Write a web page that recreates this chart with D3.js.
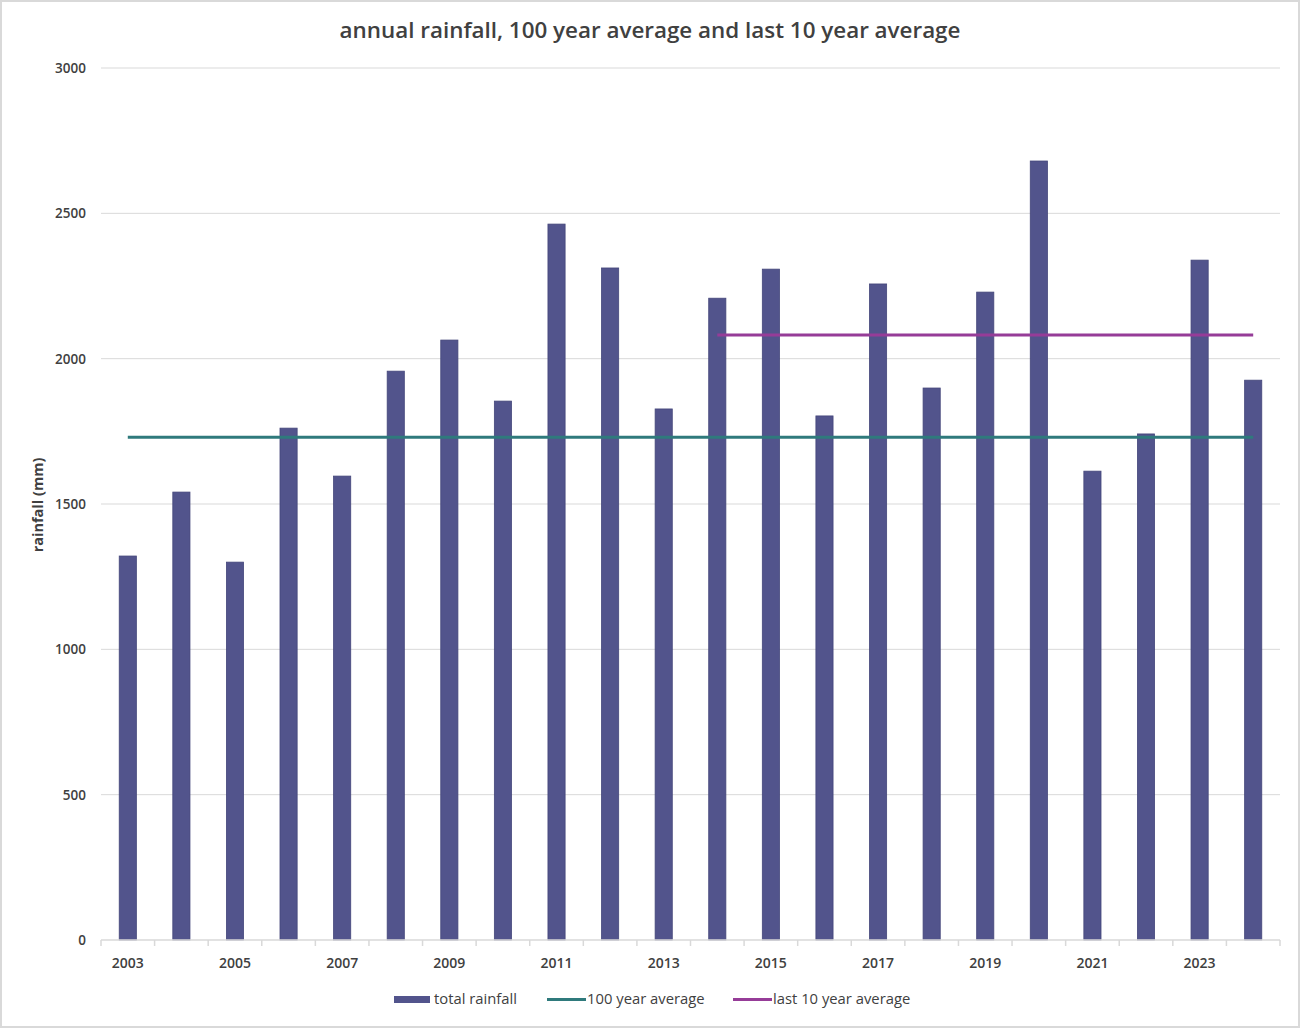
<!DOCTYPE html>
<html><head><meta charset="utf-8">
<script src="https://cdn.jsdelivr.net/npm/d3@7"></script>
<style>body{margin:0;background:#fff}svg{display:block}</style>
</head><body>
<script>
const years = [2003,2004,2005,2006,2007,2008,2009,2010,2011,2012,2013,2014,2015,2016,2017,2018,2019,2020,2021,2022,2023,2024];
const totalRainfall = [1321,1541,1300,1761,1596,1957,2064,1854,2463,2312,1827,2208,2308,1803,2257,1899,2229,2680,1613,1741,2339,1926];
const avg100 = 1730;
const avg10 = 2081;
const avg10Start = 2014;
const yTicks = [0,500,1000,1500,2000,2500,3000];
const xLabelYears = [2003,2005,2007,2009,2011,2013,2015,2017,2019,2021,2023];

const W=1300,H=1028;
const m={left:101,right:20,top:68,bottom:88};
const svg=d3.select("body").append("svg").attr("width",W).attr("height",H);
svg.append("rect").attr("x",1).attr("y",1).attr("width",W-2).attr("height",H-2).attr("fill","#fff").attr("stroke","#d9d9d9").attr("stroke-width",2);
const font="'Open Sans', 'Liberation Sans', sans-serif";
const x=d3.scaleBand().domain(years).range([m.left,W-m.right]).paddingInner(0.68).paddingOuter(0.34);
const y=d3.scaleLinear().domain([0,3000]).range([H-m.bottom,m.top]);

// gridlines
svg.append("g").selectAll("line").data(yTicks.filter(d=>d>0)).join("line")
 .attr("x1",m.left).attr("x2",W-m.right).attr("y1",d=>y(d)).attr("y2",d=>y(d))
 .attr("stroke","#d9d9d9").attr("stroke-width",1);
// y labels
svg.append("g").selectAll("text").data(yTicks).join("text")
 .attr("x",86).attr("y",d=>y(d)+5).attr("text-anchor","end")
 .attr("font-family",font).attr("font-size",13.5).attr("font-weight",600).attr("fill","#404040").text(d=>d);

// bars
svg.append("g").selectAll("rect").data(years).join("rect")
 .attr("x",d=>x(d)).attr("width",x.bandwidth())
 .attr("y",(d,i)=>y(totalRainfall[i])).attr("height",(d,i)=>y(0)-y(totalRainfall[i]))
 .attr("fill","#52548c").attr("stroke","#44467a").attr("stroke-width",0.8);

// x axis
const step=x.step();
const ax=svg.append("g");
ax.append("line").attr("x1",m.left).attr("x2",W-m.right).attr("y1",y(0)).attr("y2",y(0)).attr("stroke","#d9d9d9").attr("stroke-width",1.5);
const bounds=d3.range(years.length+1).map(i=>m.left+i*step);
ax.selectAll(".tk").data(bounds).join("line").attr("class","tk")
 .attr("x1",d=>d).attr("x2",d=>d).attr("y1",y(0)).attr("y2",y(0)+6).attr("stroke","#d9d9d9").attr("stroke-width",1.5);
ax.selectAll("text").data(xLabelYears).join("text")
 .attr("x",d=>x(d)+x.bandwidth()/2).attr("y",y(0)+28).attr("text-anchor","middle")
 .attr("font-family",font).attr("font-size",14).attr("font-weight",600).attr("fill","#404040").text(d=>d);

// lines
const cx=d=>x(d)+x.bandwidth()/2;
svg.append("line").attr("x1",cx(years[0])).attr("x2",cx(years[years.length-1]))
 .attr("y1",y(avg100)).attr("y2",y(avg100)).attr("stroke","#2f7a7c").attr("stroke-width",3);
svg.append("line").attr("x1",cx(avg10Start)).attr("x2",cx(years[years.length-1]))
 .attr("y1",y(avg10)).attr("y2",y(avg10)).attr("stroke","#963c98").attr("stroke-width",3);

// title
svg.append("text").attr("x",650).attr("y",38).attr("text-anchor","middle")
 .attr("font-family",font).attr("font-size",22.4).attr("font-weight",600).attr("fill","#404040")
 .text("annual rainfall, 100 year average and last 10 year average");
// y axis title
svg.append("text").attr("transform","translate(43,505) rotate(-90)").attr("text-anchor","middle")
 .attr("font-family",font).attr("font-size",14.5).attr("font-weight",700).attr("fill","#404040").text("rainfall (mm)");

// legend
const lg=svg.append("g").attr("font-family",font).attr("font-size",14.8).attr("fill","#404040");
lg.append("rect").attr("x",394).attr("y",996).attr("width",36).attr("height",7).attr("fill","#52548c");
lg.append("text").attr("x",434).attr("y",1004).text("total rainfall");
lg.append("line").attr("x1",547).attr("x2",586).attr("y1",999.5).attr("y2",999.5).attr("stroke","#2f7a7c").attr("stroke-width",3);
lg.append("text").attr("x",587).attr("y",1004).text("100 year average");
lg.append("line").attr("x1",733).attr("x2",772).attr("y1",999.5).attr("y2",999.5).attr("stroke","#963c98").attr("stroke-width",3);
lg.append("text").attr("x",773).attr("y",1004).text("last 10 year average");
</script>
</body></html>
